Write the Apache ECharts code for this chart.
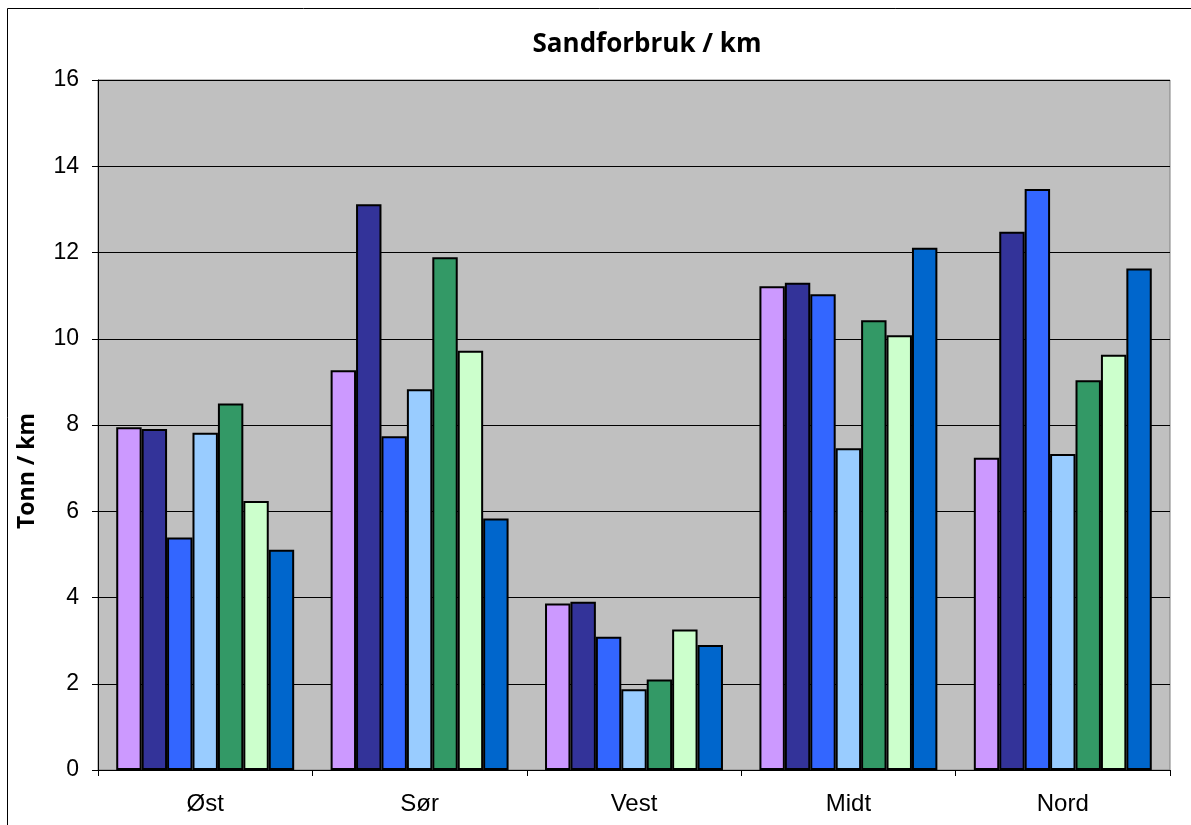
<!DOCTYPE html>
<html>
<head>
<meta charset="utf-8">
<script src="https://cdn.jsdelivr.net/npm/echarts@6/dist/echarts.min.js"></script>
<style>
  html, body { margin: 0; padding: 0; background: #fff; }
  #main { width: 1191px; height: 825px; }
</style>
</head>
<body>
<div id="main"></div>
<script>
// regions on the x axis
var regions = ['Øst', 'Sør', 'Vest', 'Midt', 'Nord'];
var yTicks = [0, 2, 4, 6, 8, 10, 12, 14, 16];

// one series per bar colour (no legend in the original)
var serie1 = [7.95, 9.27, 3.86, 11.22, 7.24];
var serie2 = [7.91, 13.12, 3.90, 11.30, 12.48];
var serie3 = [5.39, 7.74, 3.09, 11.03, 13.47];
var serie4 = [7.82, 8.83, 1.87, 7.46, 7.33];
var serie5 = [8.50, 11.89, 2.10, 10.43, 9.04];
var serie6 = [6.24, 9.72, 3.26, 10.08, 9.63];
var serie7 = [5.11, 5.83, 2.90, 12.11, 11.63];

var colors = ['#CC99FF', '#333399', '#3366FF', '#99CCFF', '#339966', '#CCFFCC', '#0066CC'];
var allSeries = [serie1, serie2, serie3, serie4, serie5, serie6, serie7];

var chart = echarts.init(document.getElementById('main'));

var option = {
  animation: false,
  title: {
    text: 'Sandforbruk / km',
    left: 642,
    textAlign: 'center',
    top: 27,
    textStyle: { fontFamily: 'Open Sans', fontWeight: 'bold', fontSize: 26, color: '#000' }
  },
  graphic: [
    {
      type: 'rect',
      shape: { x: 7.5, y: 8.5, width: 1200, height: 830 },
      style: { fill: 'none', stroke: '#000', lineWidth: 1 },
      z: -1
    },
    {
      type: 'text',
      x: 27,
      y: 471,
      rotation: Math.PI / 2,
      style: {
        text: 'Tonn / km',
        fontFamily: 'Open Sans',
        fontWeight: 'bold',
        fontSize: 23,
        fill: '#000',
        align: 'center',
        verticalAlign: 'middle'
      }
    }
  ],
  grid: {
    left: 98,
    right: 21,
    top: 80,
    bottom: 55,
    show: true,
    backgroundColor: '#C0C0C0',
    borderColor: '#808080',
    borderWidth: 1
  },
  xAxis: {
    type: 'category',
    data: regions,
    axisLine: { lineStyle: { color: '#000', width: 1 } },
    axisTick: { show: true, length: 6, inside: false, lineStyle: { color: '#000' } },
    axisLabel: { fontFamily: 'Liberation Sans', fontSize: 24, color: '#000', margin: 22 }
  },
  yAxis: {
    type: 'value',
    min: 0,
    max: yTicks[yTicks.length - 1],
    interval: yTicks[1] - yTicks[0],
    axisLine: { show: true, lineStyle: { color: '#000', width: 1 } },
    axisTick: { show: true, length: 6, lineStyle: { color: '#000' } },
    axisLabel: { fontFamily: 'Liberation Sans', fontSize: 23, color: '#000', margin: 19 },
    splitLine: { show: true, lineStyle: { color: '#000', width: 1 } }
  },
  series: allSeries.map(function (vals, i) {
    return {
      name: 'Serie ' + (i + 1),
      type: 'bar',
      data: vals,
      barGap: '0%',
      barCategoryGap: '17%',
      itemStyle: { color: colors[i], borderColor: '#000', borderWidth: 2 }
    };
  })
};

chart.setOption(option);
</script>
</body>
</html>
